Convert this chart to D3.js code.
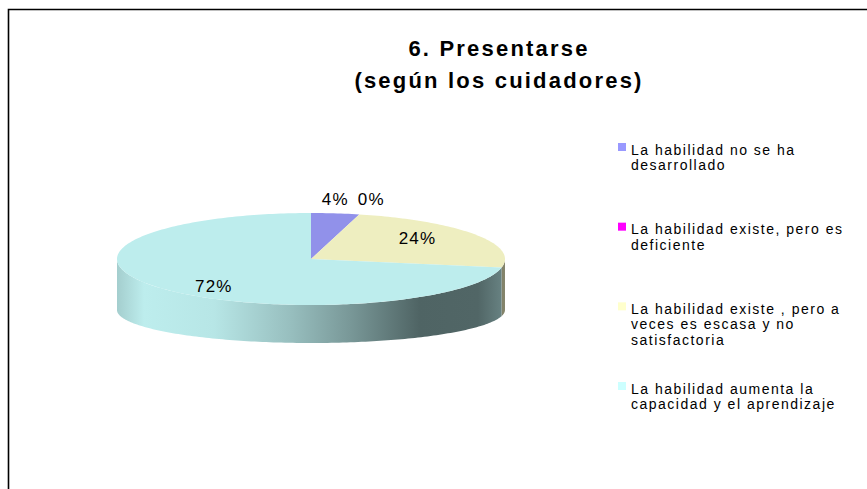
<!DOCTYPE html>
<html>
<head>
<meta charset="utf-8">
<script src="https://cdn.jsdelivr.net/npm/d3@7"></script>
<style>
  html, body { margin: 0; padding: 0; background: #fff; }
  svg { display: block; font-family: "Liberation Sans", Arial, sans-serif; }
</style>
</head>
<body>
<div id="chart"></div>
<script>
// Data
const categories = [
  "La habilidad no se ha desarrollado",
  "La habilidad existe, pero es deficiente",
  "La habilidad existe , pero a veces es escasa y no satisfactoria",
  "La habilidad aumenta la capacidad y el aprendizaje"
];
const values = [4, 0, 24, 72];
const valueLabels = ["4%", "0%", "24%", "72%"];
const legendLines = [
  ["La habilidad no se ha", "desarrollado"],
  ["La habilidad existe, pero es", "deficiente"],
  ["La habilidad existe , pero a", "veces es escasa y no", "satisfactoria"],
  ["La habilidad aumenta la", "capacidad y el aprendizaje"]
];
const titleLines = ["6. Presentarse", "(según los cuidadores)"];

// Colours
const legendColors = ["#9999FF", "#FF00FF", "#FFFFCC", "#CCFFFF"];
const topColors = ["#9191EA", "#EE00EE", "#EEEEC0", "#BDEDED"];

// The svg
const width = 867, height = 489;
const svg = d3.select("#chart")
  .append("svg")
  .attr("width", width)
  .attr("height", height);

// Chart border (only top and left visible)
svg.append("path")
  .attr("d", "M8.5," + height + " V9.5 H" + width)
  .attr("fill", "none")
  .attr("stroke", "#000")
  .attr("stroke-width", 1.6);

// Title
svg.append("g")
  .selectAll("text")
  .data(titleLines)
  .enter()
  .append("text")
  .attr("x", 499)
  .attr("y", (d, i) => 56 + i * 32)
  .attr("text-anchor", "middle")
  .attr("font-size", 22)
  .attr("letter-spacing", 2.2)
  .attr("font-weight", "bold")
  .text(d => d);

// Pie geometry (ellipse in pseudo 3D)
const cx = 311, cy = 259, rx = 194, ry = 46;
const cyB = 310, ryB = 33;

const pie = d3.pie().sort(null).value(d => d);
const arcs = pie(values);

const pt = (a, yc, r) => [cx + rx * Math.sin(a), yc - r * Math.cos(a)];
const sample = (a0, a1, yc, r) => {
  const n = Math.max(2, Math.ceil(Math.abs(a1 - a0) / 0.02));
  return d3.range(n + 1).map(i => pt(a0 + (a1 - a0) * i / n, yc, r));
};
const line = d3.line();

// Side gradients
const defs = svg.append("defs");
const shade = [[0, 0.87], [0.07, 1], [0.25, 0.97], [0.45, 0.8], [0.6, 0.64], [0.78, 0.42], [0.93, 0.43], [1, 0.56]];
arcs.forEach((d, i) => {
  const base = d3.rgb(topColors[i]);
  const g = defs.append("linearGradient")
    .attr("id", "side" + i)
    .attr("gradientUnits", "userSpaceOnUse")
    .attr("x1", cx - rx).attr("x2", cx + rx)
    .attr("y1", 0).attr("y2", 0);
  shade.forEach(s => {
    g.append("stop")
      .attr("offset", s[0])
      .attr("stop-color", d3.rgb(base.r * s[1], base.g * s[1], base.b * s[1]).formatHex());
  });
});

// Side walls (front half only)
svg.append("g")
  .selectAll("path")
  .data(arcs)
  .enter()
  .append("path")
  .attr("d", d => {
    const a0 = Math.max(d.startAngle, Math.PI / 2);
    const a1 = Math.min(d.endAngle, 3 * Math.PI / 2);
    if (a1 <= a0) return null;
    const pts = sample(a0, a1, cy, ry).concat(sample(a1, a0, cyB, ryB));
    return line(pts) + "Z";
  })
  .attr("fill", (d, i) => "url(#side" + i + ")");

// Top slices
svg.append("g")
  .selectAll("path")
  .data(arcs)
  .enter()
  .append("path")
  .attr("d", d => {
    if (d.endAngle - d.startAngle <= 0) return null;
    const pts = [[cx, cy]].concat(sample(d.startAngle, d.endAngle, cy, ry));
    return line(pts) + "Z";
  })
  .attr("fill", (d, i) => topColors[i]);

// Data labels
const labels = svg.append("g")
  .selectAll("text")
  .data(valueLabels)
  .enter()
  .append("text")
  .attr("text-anchor", "middle")
  .attr("font-size", 17)
  .attr("letter-spacing", 1.2)
  .text(d => d);

let prevOut = null;
labels.each(function (d, i) {
  const a = arcs[i];
  const mid = (a.startAngle + a.endAngle) / 2;
  const w = this.getComputedTextLength();
  let x, y;
  if (a.value < 10) {
    // small slices: label outside, above the rim, pushed right to avoid overlap
    x = cx + rx * Math.sin(mid);
    y = cy - ry - 8;
    if (prevOut && x - w / 2 < prevOut.x + prevOut.w / 2 + 9) x = prevOut.x + prevOut.w / 2 + 9 + w / 2;
    prevOut = { x: x, w: w };
  } else {
    x = cx + rx * 0.65 * Math.sin(mid);
    y = cy - ry * 0.88 * Math.cos(mid) + 7;
  }
  d3.select(this).attr("x", x).attr("y", y);
});

// Legend
const legendY = d3.scalePoint()
  .domain(d3.range(categories.length))
  .range([143, 382]);

const legend = svg.append("g")
  .selectAll("g")
  .data(categories)
  .enter()
  .append("g")
  .attr("transform", (d, i) => "translate(618," + legendY(i) + ")");

legend.append("rect")
  .attr("width", 8)
  .attr("height", 8)
  .attr("fill", (d, i) => legendColors[i]);

legend.append("text")
  .attr("font-size", 14)
  .attr("letter-spacing", 1.5)
  .selectAll("tspan")
  .data((d, i) => legendLines[i])
  .enter()
  .append("tspan")
  .attr("x", 13)
  .attr("y", (d, j) => 11.5 + j * 15.5)
  .text(d => d);
</script>
</body>
</html>
